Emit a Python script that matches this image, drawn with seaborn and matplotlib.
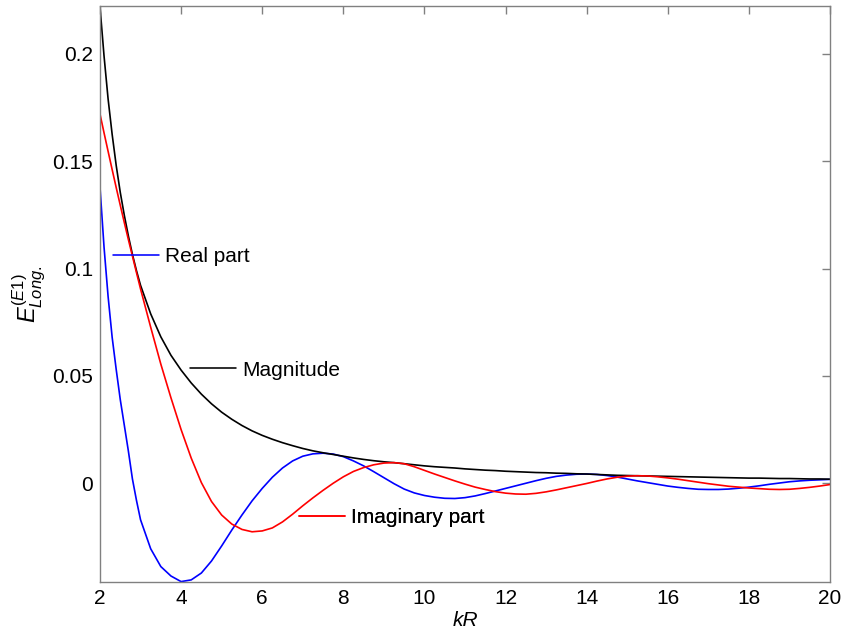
import pandas as pd
import matplotlib
matplotlib.use('Agg')
import matplotlib.pyplot as plt
import seaborn as sns
from matplotlib.lines import Line2D

# values
kr = [2.0, 2.1, 2.2, 2.3, 2.4, 2.5, 2.6, 2.7, 2.8, 2.9, 3.0,
      3.25, 3.5, 3.75, 4.0, 4.25, 4.5, 4.75, 5.0, 5.25, 5.5, 5.75, 6.0,
      6.25, 6.5, 6.75, 7.0, 7.25, 7.5, 7.75, 8.0, 8.25, 8.5, 8.75, 9.0,
      9.25, 9.5, 9.75, 10.0, 10.25, 10.5, 10.75, 11.0, 11.25, 11.5, 11.75, 12.0,
      12.25, 12.5, 12.75, 13.0, 13.25, 13.5, 13.75, 14.0, 14.25, 14.5, 14.75, 15.0,
      15.25, 15.5, 15.75, 16.0, 16.25, 16.5, 16.75, 17.0, 17.25, 17.5, 17.75, 18.0,
      18.25, 18.5, 18.75, 19.0, 19.25, 19.5, 19.75, 20.0]

real_part = [0.138, 0.110, 0.087, 0.068, 0.053, 0.039, 0.027, 0.015, 0.002, -0.008, -0.017,
             -0.0305, -0.0388, -0.0432, -0.0458, -0.0450, -0.0418, -0.0362, -0.0292,
             -0.0218, -0.0148, -0.0082, -0.0024, 0.0028, 0.0071, 0.0104, 0.0126,
             0.0137, 0.0140, 0.0136, 0.0124, 0.0104, 0.0081, 0.0054, 0.0026,
             -0.0002, -0.0027, -0.0045, -0.0057, -0.0065, -0.0070, -0.0071, -0.0067,
             -0.0059, -0.0048, -0.0036, -0.0024, -0.0012, 0.0000, 0.0012, 0.0023,
             0.0032, 0.0038, 0.0042, 0.0043, 0.0041, 0.0036, 0.0029, 0.0020,
             0.0011, 0.0003, -0.0005, -0.0013, -0.0019, -0.0024, -0.0028, -0.0029,
             -0.0029, -0.0027, -0.0023, -0.0018, -0.0012, -0.0005, 0.0001, 0.0007,
             0.0011, 0.0014, 0.0016, 0.0018]

imag_part = [0.172, 0.1632, 0.1546, 0.1461, 0.1377, 0.1295, 0.1214, 0.1135, 0.1058, 0.0981, 0.0905,
             0.0727, 0.0555, 0.0398, 0.0250, 0.0117, 0.0003, -0.0085, -0.0148,
             -0.0190, -0.0215, -0.0226, -0.0222, -0.0208, -0.0180, -0.0144, -0.0105,
             -0.0068, -0.0033, 0.0000, 0.0030, 0.0055, 0.0073, 0.0086, 0.0094,
             0.0096, 0.0091, 0.0077, 0.0060, 0.0043, 0.0027, 0.0011, -0.0004,
             -0.0018, -0.0029, -0.0039, -0.0046, -0.0050, -0.0051, -0.0047, -0.0040,
             -0.0031, -0.0021, -0.0011, -0.0001, 0.0010, 0.0020, 0.0028, 0.0033,
             0.0035, 0.0034, 0.0030, 0.0025, 0.0019, 0.0012, 0.0005, -0.0002,
             -0.0008, -0.0014, -0.0018, -0.0022, -0.0025, -0.0028, -0.0029, -0.0028,
             -0.0024, -0.0019, -0.0013, -0.0006]

magnitude = [0.222, 0.199, 0.179, 0.1625, 0.148, 0.1355, 0.1248, 0.1152, 0.1066, 0.0990, 0.0922,
             0.0789, 0.0682, 0.0596, 0.0527, 0.0467, 0.0415, 0.0370, 0.0331,
             0.0298, 0.0269, 0.0244, 0.0223, 0.0205, 0.0189, 0.0175, 0.0162,
             0.0151, 0.0142, 0.0134, 0.0126, 0.0118, 0.0111, 0.0105, 0.0100,
             0.0096, 0.0091, 0.0086, 0.0081, 0.0077, 0.0074, 0.0071, 0.0067,
             0.0064, 0.0061, 0.0059, 0.0056, 0.0054, 0.0052, 0.0050, 0.0049,
             0.0047, 0.0046, 0.0044, 0.0043, 0.0041, 0.0039, 0.0037, 0.0036,
             0.0035, 0.0034, 0.0033, 0.0032, 0.0031, 0.0030, 0.0029, 0.0028,
             0.0027, 0.0026, 0.0025, 0.0024, 0.0024, 0.0023, 0.0022, 0.0022,
             0.0021, 0.0020, 0.0020, 0.0019]

x_ticks = [2, 4, 6, 8, 10, 12, 14, 16, 18, 20]
y_ticks = [0, 0.05, 0.1, 0.15, 0.2]
y_tick_labels = ['0', '0.05', '0.1', '0.15', '0.2']

df = pd.DataFrame({'kR': kr, 'Real part': real_part,
                   'Imaginary part': imag_part, 'Magnitude': magnitude})

sns.set_style('white', {'text.color': 'black', 'axes.labelcolor': 'black',
                        'xtick.color': 'black', 'ytick.color': 'black'})
plt.rcParams['font.family'] = ['Liberation Sans', 'DejaVu Sans']
plt.rcParams['mathtext.fontset'] = 'custom'
plt.rcParams['mathtext.it'] = 'Liberation Sans:italic'
plt.rcParams['mathtext.rm'] = 'Liberation Sans'

gray = '#808080'
fig = plt.figure(figsize=(8.43, 6.37), dpi=100)
ax = fig.add_axes([0.1186, 0.0863, 0.866, 0.9047])

# series: colour, label position (axes coords of the short line start)
series = [('Real part', 'blue', (0.0182, 0.5645)),
          ('Magnitude', 'black', (0.1233, 0.3679)),
          ('Imaginary part', 'red', (0.273, 0.1123))]

for name, col, _ in series:
    sns.lineplot(data=df, x='kR', y=name, color=col, linewidth=1.2, ax=ax)

# labels with a short line next to them, like the original
for name, col, pos in series:
    leg = ax.legend(handles=[Line2D([], [], color=col, linewidth=1.15)],
                    labels=[name], loc='center left', bbox_to_anchor=pos,
                    frameon=False, handlelength=2.2, handletextpad=0.3,
                    borderpad=0, borderaxespad=0, fontsize=15, labelcolor='black')
    ax.add_artist(leg)

ax.set_xlim(2, 20)
ax.set_ylim(-0.046, 0.2224)
ax.set_xticks(x_ticks)
ax.set_yticks(y_ticks)
ax.set_yticklabels(y_tick_labels)
ax.tick_params(which='both', direction='in', top=True, right=True,
               length=6, width=1, color=gray, labelcolor='black',
               labelsize=15, pad=5)
for sp in ax.spines.values():
    sp.set_color(gray)
    sp.set_linewidth(1.0)

ax.set_xlabel('kR', fontsize=15, style='italic', labelpad=2, color='black')
ax.set_ylabel(r'$\mathit{E}^{\mathit{(E1)}}_{\mathit{Long.}}$', fontsize=17,
              labelpad=4, color='black')

fig.savefig('out.png', dpi=100)
